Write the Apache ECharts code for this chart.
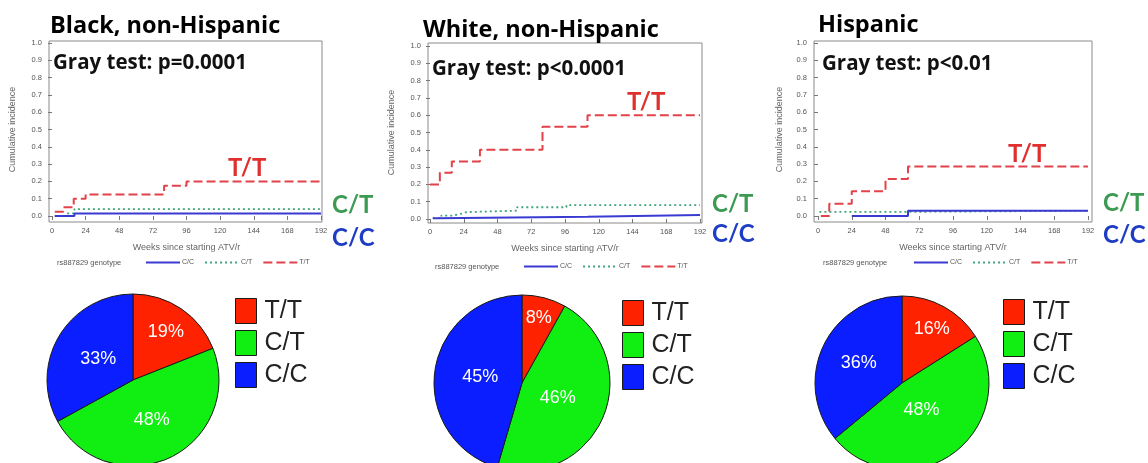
<!DOCTYPE html>
<html>
<head>
<meta charset="utf-8">
<script src="https://cdn.jsdelivr.net/npm/echarts@6/dist/echarts.min.js"></script>
<style>
html,body{margin:0;padding:0;background:#fff;}
#c{width:1148px;height:463px;}
</style>
</head>
<body>
<div id="c"></div>
<script>
// ---------------- DATA ----------------
const genotypes = ['T/T', 'C/T', 'C/C'];
const panelTitles = ['Black, non-Hispanic', 'White, non-Hispanic', 'Hispanic'];
const grayTests = ['Gray test: p=0.0001', 'Gray test: p<0.0001', 'Gray test: p<0.01'];
const weekTicks = [0, 24, 48, 72, 96, 120, 144, 168, 192];
const ciTicks = [0, 0.1, 0.2, 0.3, 0.4, 0.5, 0.6, 0.7, 0.8, 0.9, 1.0];
const xAxisTitle = 'Weeks since starting ATV/r';
const yAxisTitle = 'Cumulative incidence';
const legendTitle = 'rs887829 genotype';

// Black, non-Hispanic cumulative incidence (step points: week, value)
const blackTT_weeks = [2, 8, 15.5, 24, 80, 96, 192];
const blackTT_ci    = [0.025, 0.05, 0.1, 0.125, 0.175, 0.2, 0.2];
const blackCT_weeks = [2, 10, 16, 192];
const blackCT_ci    = [0, 0.015, 0.04, 0.04];
const blackCC_weeks = [2, 16, 192];
const blackCC_ci    = [0, 0.015, 0.015];

// White, non-Hispanic
const whiteTT_weeks = [0, 7, 15.5, 35.5, 80, 112, 192];
const whiteTT_ci    = [0.2, 0.267, 0.333, 0.4, 0.533, 0.6, 0.6];
const whiteCT_weeks = [2, 8, 16, 22, 26, 62, 97, 192];
const whiteCT_ci    = [0.005, 0.02, 0.03, 0.04, 0.048, 0.068, 0.08, 0.08];
const whiteCC_weeks = [2, 5, 112, 192];
const whiteCC_ci    = [0.004, 0.013, 0.023, 0.023];

// Hispanic
const hispTT_weeks = [2, 8, 24, 48, 64, 192];
const hispTT_ci    = [0, 0.071, 0.143, 0.214, 0.286, 0.286];
const hispCT_weeks = [1, 64, 192];
const hispCT_ci    = [0.024, 0.03, 0.03];
const hispCC_weeks = [24, 64, 192];
const hispCC_ci    = [0, 0.031, 0.031];

// Genotype distribution (%), order T/T, C/T, C/C
const blackPct = [19, 48, 33];
const whitePct = [8, 46, 45];
const hispPct  = [16, 48, 36];

// ---------------- LAYOUT / STYLE ----------------
const panels = [
  { box: [49, 41, 273, 181], grid: [52, 43, 269, 173], yGap: 32, title: [50, 26], gray: [53, 63],
    big: { tt: [228, 168], ct: [332, 205], cc: [332, 238] }, lgTitle: [57, 263], lg: [145, 259],
    pie: { c: [133, 380], r: 86, f: [0.68, 0.51, 0.47] }, pieLg: [235, 298],
    tt: [blackTT_weeks, blackTT_ci], ct: [blackCT_weeks, blackCT_ci], cc: [blackCC_weeks, blackCC_ci], pct: blackPct },
  { box: [428, 43, 274, 180], grid: [430, 46, 270, 173], yGap: 32, title: [423, 30], gray: [432, 69],
    big: { tt: [627, 102], ct: [712, 204], cc: [712, 234] }, lgTitle: [435, 267], lg: [523, 263],
    pie: { c: [522, 383], r: 88, f: [0.76, 0.44, 0.48] }, pieLg: [622, 300],
    tt: [whiteTT_weeks, whiteTT_ci], ct: [whiteCT_weeks, whiteCT_ci], cc: [whiteCC_weeks, whiteCC_ci], pct: whitePct },
  { box: [814, 41, 278, 181], grid: [818, 43, 270, 173], yGap: 30, title: [818, 25], gray: [822, 64],
    big: { tt: [1008, 154], ct: [1103, 203], cc: [1103, 235] }, lgTitle: [823, 263], lg: [913, 259],
    pie: { c: [902, 383], r: 87, f: [0.71, 0.38, 0.55] }, pieLg: [1003, 299],
    tt: [hispTT_weeks, hispTT_ci], ct: [hispCT_weeks, hispCT_ci], cc: [hispCC_weeks, hispCC_ci], pct: hispPct }
];

const lineColor = { 'T/T': '#e2434a', 'C/T': '#3fa57a', 'C/C': '#3a3ad2' };
const lineType  = { 'T/T': [9, 4], 'C/T': [2, 3], 'C/C': 'solid' };
const bigColor  = { 'T/T': '#e0302e', 'C/T': '#3c9a52', 'C/C': '#1e3cc4' };
const pieColor  = { 'T/T': '#ff2200', 'C/T': '#11ee11', 'C/C': '#0a1eff' };
const curveName = g => g + ' curve';

const grids = [], xAxes = [], yAxes = [], series = [], legends = [], graphics = [];

panels.forEach((p, pi) => {
  // box grid (frame)
  const bi = grids.length;
  grids.push({ left: p.box[0], top: p.box[1], width: p.box[2], height: p.box[3], show: true,
    borderColor: '#8a8a8a', borderWidth: 1, backgroundColor: 'transparent' });
  xAxes.push({ gridIndex: bi, type: 'value', show: false, min: 0, max: 1 });
  yAxes.push({ gridIndex: bi, type: 'value', show: false, min: 0, max: 1 });
  // data grid
  const di = grids.length;
  grids.push({ left: p.grid[0], top: p.grid[1], width: p.grid[2], height: p.grid[3] });
  xAxes.push({
    gridIndex: di, type: 'value', min: weekTicks[0], max: weekTicks[weekTicks.length - 1],
    interval: weekTicks[1] - weekTicks[0],
    offset: (p.box[1] + p.box[3]) - (p.grid[1] + p.grid[3]),
    axisLine: { show: false }, splitLine: { show: false },
    axisTick: { show: true, length: 4, lineStyle: { color: '#777' } },
    axisLabel: { fontSize: 7.5, color: '#555', margin: 5, fontFamily: 'Liberation Sans' },
    name: xAxisTitle, nameLocation: 'middle', nameGap: 21,
    nameTextStyle: { fontSize: 9, color: '#666', fontFamily: 'Liberation Sans' }
  });
  yAxes.push({
    gridIndex: di, type: 'value', min: ciTicks[0], max: ciTicks[ciTicks.length - 1],
    interval: ciTicks[1] - ciTicks[0],
    offset: p.grid[0] - p.box[0],
    axisLine: { show: false }, splitLine: { show: false },
    axisTick: { show: true, length: 4, lineStyle: { color: '#777' } },
    axisLabel: { fontSize: 7.5, color: '#555', margin: 7, fontFamily: 'Liberation Sans',
      formatter: v => v.toFixed(1) },
    name: yAxisTitle, nameLocation: 'middle', nameGap: p.yGap,
    nameTextStyle: { fontSize: 9, color: '#666', fontFamily: 'Liberation Sans' }
  });
  const xi = xAxes.length - 1, yi = yAxes.length - 1;
  const curves = { 'C/C': p.cc, 'C/T': p.ct, 'T/T': p.tt };
  ['C/C', 'C/T', 'T/T'].forEach(g => {
    const w = curves[g][0], v = curves[g][1];
    series.push({
      type: 'line', name: curveName(g), xAxisIndex: xi, yAxisIndex: yi,
      step: 'end', symbol: 'none', silent: true, animation: false,
      data: w.map((wk, k) => [wk, v[k]]),
      lineStyle: { color: lineColor[g], width: g === 'C/T' ? 1.8 : 2, type: lineType[g] },
      itemStyle: { color: lineColor[g] },
      z: g === 'T/T' ? 4 : (g === 'C/C' ? 3 : 2)
    });
  });
  // line legend
  legends.push({
    left: p.lg[0], top: p.lg[1], padding: 0, itemWidth: 34, itemHeight: 8, itemGap: 10,
    data: ['C/C', 'C/T', 'T/T'].map(curveName),
    itemStyle: { opacity: 0 },
    formatter: n => n.replace(' curve', ''),
    textStyle: { fontSize: 7, color: '#555', fontFamily: 'Liberation Sans', padding: [0, 0, 0, -3] },
    selectedMode: false
  });
  // pie
  const pct = p.pct;
  const total = pct.reduce((a, b) => a + b, 0);
  series.push({
    type: 'pie', center: p.pie.c, radius: p.pie.r, startAngle: 90, clockwise: true,
    animation: false, silent: true,
    data: genotypes.map((g, k) => ({ name: g, value: pct[k], itemStyle: { color: pieColor[g] } })),
    itemStyle: { borderColor: '#1a1a1a', borderWidth: 1 },
    label: { show: true, position: 'inside', formatter: '{c}%', color: '#fff', fontSize: 18,
      fontFamily: 'Liberation Sans' },
    labelLine: { show: false },
    labelLayout: params => {
      const k = params.dataIndex;
      let cum = 0; for (let j = 0; j < k; j++) cum += pct[j];
      const a = (cum + pct[k] / 2) / total * Math.PI * 2;
      const rr = p.pie.f[k] * p.pie.r;
      return { x: p.pie.c[0] + rr * Math.sin(a), y: p.pie.c[1] - rr * Math.cos(a),
        align: 'center', verticalAlign: 'middle' };
    }
  });
  legends.push({
    left: p.pieLg[0], top: p.pieLg[1], padding: 0, orient: 'vertical', icon: 'rect',
    itemWidth: 21, itemHeight: 25, itemGap: 6, selectedMode: false,
    data: genotypes,
    itemStyle: { borderColor: '#1a1a1a', borderWidth: 1 },
    textStyle: { fontSize: 25, color: '#222', fontFamily: 'Liberation Sans', padding: [0, 0, 0, 3] }
  });
  // texts
  graphics.push({ type: 'text', x: p.title[0], y: p.title[1], silent: true,
    style: { text: panelTitles[pi], fill: '#000', fontSize: 23.5, fontWeight: 'bold', fontFamily: 'Open Sans',
      verticalAlign: 'middle', align: 'left' } });
  graphics.push({ type: 'text', x: p.gray[0], y: p.gray[1], silent: true,
    style: { text: grayTests[pi], fill: '#111', fontSize: 20.5, fontWeight: 'bold', fontFamily: 'Open Sans',
      verticalAlign: 'middle', align: 'left' } });
  graphics.push({ type: 'text', x: p.lgTitle[0], y: p.lgTitle[1], silent: true,
    style: { text: legendTitle, fill: '#555', fontSize: 7.5, fontFamily: 'Liberation Sans',
      verticalAlign: 'middle', align: 'left' } });
  [['tt', 'T/T'], ['ct', 'C/T'], ['cc', 'C/C']].forEach(([key, g]) => {
    graphics.push({ type: 'text', x: p.big[key][0], y: p.big[key][1], silent: true,
      style: { text: g, fill: bigColor[g], fontSize: 24, fontWeight: 'bold', fontFamily: 'Lato',
        verticalAlign: 'middle', align: 'left' } });
  });
});

const chart = echarts.init(document.getElementById('c'), null, { renderer: 'canvas' });
chart.setOption({
  backgroundColor: '#fff',
  animation: false,
  grid: grids,
  xAxis: xAxes,
  yAxis: yAxes,
  legend: legends,
  series: series,
  graphic: graphics
});
</script>
</body>
</html>
